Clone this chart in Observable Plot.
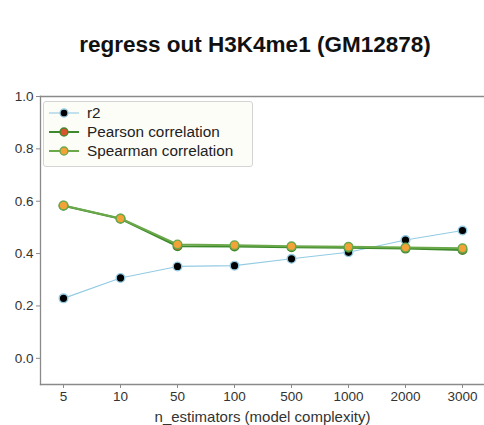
<!DOCTYPE html>
<html>
<head>
<meta charset="utf-8">
<script src="https://cdn.jsdelivr.net/npm/d3@7"></script>
<script src="https://cdn.jsdelivr.net/npm/@observablehq/plot@0.6"></script>
<style>
  html, body { margin: 0; padding: 0; background: #fff; }
  #wrap { position: relative; width: 484px; height: 425px; font-family: "Liberation Sans", Arial, sans-serif; overflow: hidden; }
  #title { height: 70px; box-sizing: border-box; padding-left: 26px; padding-top: 32px; text-align: center; font-weight: bold; font-size: 22.5px; color: #111; line-height: 26px; white-space: nowrap; }
  #legend { position: absolute; left: 43px; top: 101px; width: 210px; height: 66px; box-sizing: border-box; border: 1px solid #d4d4d4; border-radius: 3px; background: #fdfdf8; }
  .item { position: absolute; left: 4px; height: 19px; display: flex; align-items: center; font-size: 15.3px; color: #222; }
  .item svg { margin-right: 7px; }
</style>
</head>
<body>
<div id="wrap">
  <div id="title">regress out H3K4me1 (GM12878)</div>
  <div id="chart"></div>
  <div id="legend"></div>
</div>
<script>
const categories = ["5", "10", "50", "100", "500", "1000", "2000", "3000"];
const r2 = [0.229, 0.307, 0.351, 0.354, 0.380, 0.405, 0.452, 0.488];
const pearson = [0.583, 0.533, 0.428, 0.427, 0.424, 0.422, 0.419, 0.414];
const spearman = [0.584, 0.534, 0.435, 0.432, 0.428, 0.426, 0.423, 0.420];
const yTicks = [0.0, 0.2, 0.4, 0.6, 0.8, 1.0];

const seriesNames = ["r2", "Pearson correlation", "Spearman correlation"];
const seriesValues = [r2, pearson, spearman];
const lineColors = ["#93cbe3", "#3d8a2c", "#6aa84a"];
const lineWidths = [1.1, 2, 2];
const dotFills = ["#000000", "#d9542a", "#f2a236"];
const dotStrokes = ["#93cbe3", "#3d8a2c", "#6aa84a"];

const rows = seriesNames.map((name, i) =>
  categories.map((c, j) => ({series: name, x: c, y: seriesValues[i][j]}))
);

const marks = [];
rows.forEach((data, i) => {
  marks.push(Plot.line(data, {x: "x", y: "y", stroke: lineColors[i], strokeWidth: lineWidths[i]}));
  marks.push(Plot.dot(data, {x: "x", y: "y", r: 4.3, fill: dotFills[i], stroke: dotStrokes[i], strokeWidth: 1.4}));
});

const chart = Plot.plot({
  width: 484,
  height: 355,
  marginTop: 26,
  marginBottom: 41,
  marginLeft: 40,
  marginRight: 0,
  style: {fontFamily: "Liberation Sans, Arial, sans-serif", fontSize: "13.5px", color: "#333", background: "#fff"},
  x: {type: "point", domain: categories, range: [60, 465], padding: 0},
  y: {domain: [-0.1, 1.0]},
  marks: [
    Plot.frame({anchor: "left", stroke: "#8a8a8a", strokeWidth: 1.3}),
    Plot.frame({anchor: "bottom", stroke: "#8a8a8a", strokeWidth: 1.3}),
    Plot.frame({anchor: "top", stroke: "#8a8a8a", strokeWidth: 1.3}),
    Plot.axisY({ticks: yTicks, tickFormat: d3.format(".1f"), tickSize: 4, tickPadding: 3, stroke: "#8a8a8a", label: null, fontSize: 13.5}),
    Plot.axisX({tickSize: 4, tickPadding: 3, stroke: "#8a8a8a", fontSize: 13.5, label: null}),
    Plot.axisX({ticks: [], tickSize: 0, label: "n_estimators (model complexity)", labelAnchor: "center", labelArrow: "none", labelOffset: 37, fontSize: 15}),
    ...marks
  ]
});
document.getElementById("chart").appendChild(chart);

// legend
const legend = document.getElementById("legend");
seriesNames.forEach((name, i) => {
  const div = document.createElement("div");
  div.className = "item";
  div.style.top = (1 + i * 19) + "px";
  div.innerHTML = `<svg width="32" height="12"><line x1="1" x2="31" y1="6" y2="6" stroke="${lineColors[i]}" stroke-width="${lineWidths[i]}"/><circle cx="16" cy="6" r="4" fill="${dotFills[i]}" stroke="${dotStrokes[i]}" stroke-width="1.3"/></svg><span>${name}</span>`;
  legend.appendChild(div);
});
</script>
</body>
</html>
